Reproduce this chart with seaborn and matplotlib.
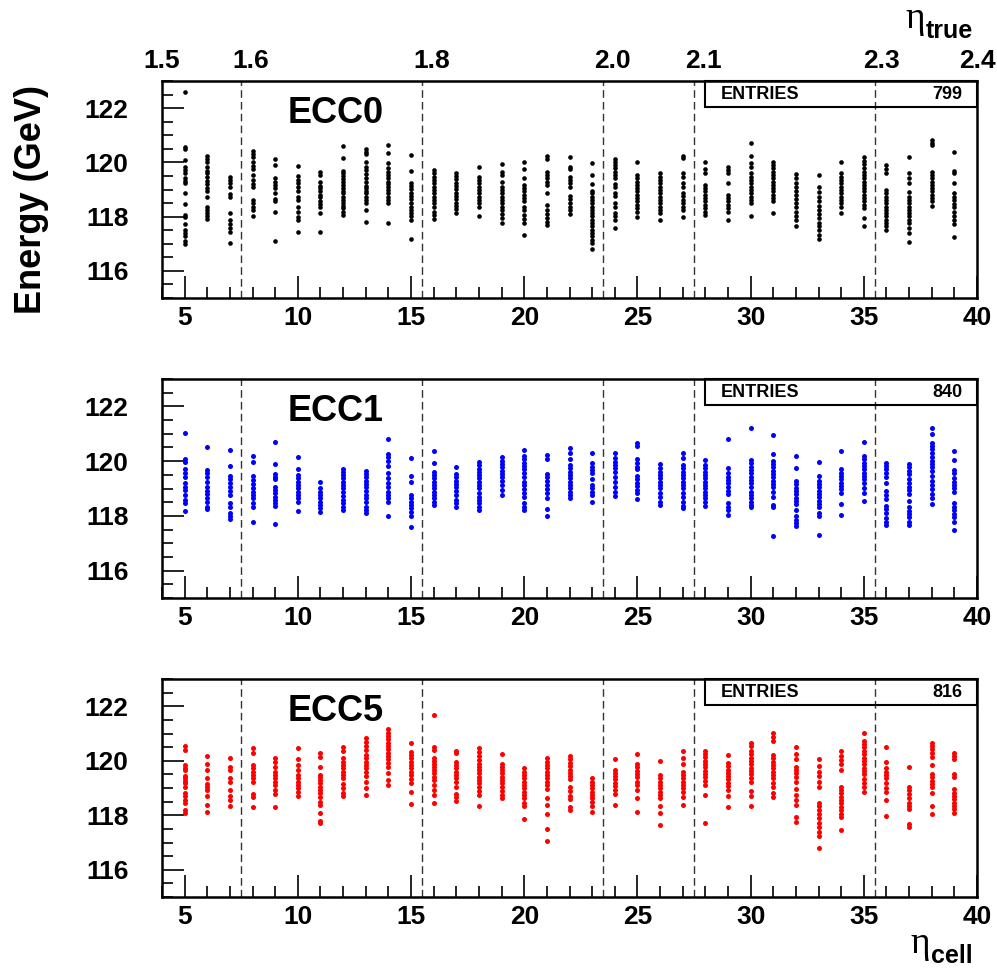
import numpy as np
import pandas as pd
import matplotlib.pyplot as plt
import seaborn as sns
from matplotlib.ticker import MultipleLocator
from matplotlib.patches import Rectangle

# eta cell index of each column of points
eta_cell = [5, 6, 7, 8, 9, 10, 11, 12, 13, 14, 15, 16, 17, 18, 19, 20, 21, 22,
            23, 24, 25, 26, 27, 28, 29, 30, 31, 32, 33, 34, 35, 36, 37, 38, 39]

# reconstructed energies (GeV), one list per eta cell
ecc0_energy = [
    [122.59, 120.58, 120.48, 120.09, 119.82, 119.72, 119.60, 119.42, 119.33, 119.23, 118.89, 118.47, 118.07, 117.98, 117.74, 117.52, 117.39, 117.27, 117.12, 117.00],
    [120.25, 120.14, 120.03, 119.82, 119.70, 119.60, 119.48, 119.33, 119.21, 119.05, 118.93, 118.74, 118.37, 118.25, 118.13, 118.03, 117.91],
    [119.45, 119.35, 119.23, 119.11, 118.84, 118.72, 118.13, 117.88, 117.74, 117.58, 117.45, 117.02],
    [120.42, 120.31, 120.19, 120.03, 119.87, 119.75, 119.54, 119.35, 119.21, 119.08, 118.62, 118.50, 118.37, 118.25, 118.04],
    [120.13, 119.90, 119.41, 119.29, 119.17, 119.05, 118.89, 118.64, 118.56, 118.16, 117.09],
    [119.88, 119.50, 119.35, 119.23, 119.11, 118.96, 118.72, 118.62, 118.37, 118.19, 117.98, 117.88, 117.42],
    [119.63, 119.54, 119.29, 119.13, 119.05, 118.93, 118.80, 118.72, 118.59, 118.47, 118.37, 118.13, 117.43],
    [120.59, 120.15, 119.68, 119.60, 119.50, 119.40, 119.29, 119.17, 119.05, 118.95, 118.86, 118.74, 118.62, 118.52, 118.41, 118.31, 118.19, 118.07],
    [120.49, 120.39, 120.30, 120.03, 119.84, 119.72, 119.57, 119.41, 119.29, 119.13, 119.05, 118.96, 118.86, 118.74, 118.62, 118.50, 118.25, 117.82],
    [120.63, 120.33, 119.96, 119.78, 119.66, 119.54, 119.41, 119.29, 119.21, 119.11, 118.99, 118.86, 118.72, 118.62, 118.50, 117.76],
    [120.27, 119.68, 119.25, 119.13, 119.01, 118.89, 118.76, 118.64, 118.52, 118.37, 118.25, 118.13, 118.01, 117.88, 117.18],
    [119.72, 119.60, 119.48, 119.35, 119.23, 119.11, 118.99, 118.86, 118.74, 118.62, 118.50, 118.37, 118.19, 118.07, 117.91],
    [119.62, 119.50, 119.38, 119.25, 119.13, 119.01, 118.89, 118.76, 118.64, 118.52, 118.40, 118.27, 118.13],
    [119.84, 119.48, 119.35, 119.23, 119.11, 118.99, 118.86, 118.74, 118.62, 118.50, 118.37, 118.04],
    [119.94, 119.66, 119.54, 119.29, 119.11, 118.99, 118.86, 118.74, 118.62, 118.50, 118.37, 118.25, 118.10, 117.94, 117.78],
    [120.01, 119.74, 119.41, 119.17, 119.05, 118.93, 118.80, 118.68, 118.56, 118.37, 118.25, 118.07, 117.91, 117.76, 117.31],
    [120.24, 120.11, 119.66, 119.54, 119.41, 119.29, 119.17, 118.89, 118.43, 118.25, 118.10, 117.94, 117.82, 117.70],
    [120.21, 119.82, 119.74, 119.48, 119.35, 119.23, 119.11, 118.76, 118.64, 118.52, 118.37, 118.25, 118.10],
    [119.97, 119.54, 119.21, 118.96, 118.86, 118.74, 118.62, 118.50, 118.37, 118.25, 118.13, 118.01, 117.88, 117.76, 117.64, 117.52, 117.39, 117.27, 117.15, 117.02, 116.82],
    [120.11, 120.03, 119.90, 119.78, 119.66, 119.54, 119.41, 119.21, 119.08, 118.89, 118.76, 118.52, 118.37, 118.15, 118.01, 117.88, 117.58],
    [120.00, 119.54, 119.41, 119.29, 119.17, 119.05, 118.93, 118.80, 118.68, 118.56, 118.43, 118.31, 118.19, 117.98],
    [119.60, 119.48, 119.35, 119.23, 119.11, 118.99, 118.86, 118.74, 118.62, 118.50, 118.37, 118.25, 118.13, 117.86],
    [120.24, 120.15, 119.60, 119.48, 119.23, 119.11, 118.89, 118.76, 118.62, 118.50, 118.37, 118.25, 117.98],
    [120.00, 119.74, 119.62, 119.17, 119.05, 118.93, 118.80, 118.68, 118.56, 118.43, 118.31, 118.19, 118.05],
    [119.84, 119.72, 119.60, 119.25, 118.80, 118.68, 118.56, 118.43, 118.31, 118.19, 117.86],
    [120.70, 120.24, 119.97, 119.84, 119.60, 119.48, 119.35, 119.23, 119.11, 118.99, 118.86, 118.74, 118.62, 118.50, 118.03],
    [120.03, 119.90, 119.78, 119.66, 119.54, 119.41, 119.29, 119.17, 119.05, 118.93, 118.80, 118.68, 118.56, 118.13],
    [119.57, 119.41, 119.25, 119.11, 118.96, 118.80, 118.64, 118.50, 118.35, 118.19, 118.03, 117.88, 117.64],
    [119.54, 119.11, 118.92, 118.74, 118.56, 118.40, 118.25, 118.10, 117.94, 117.78, 117.64, 117.49, 117.33, 117.17],
    [120.03, 119.60, 119.48, 119.35, 119.23, 119.11, 118.99, 118.86, 118.74, 118.62, 118.50, 118.37, 118.15],
    [120.19, 120.06, 119.94, 119.78, 119.66, 119.54, 119.41, 119.29, 119.17, 119.05, 118.93, 118.80, 118.68, 118.56, 118.43, 118.31, 117.94, 117.64],
    [119.90, 119.75, 119.62, 118.99, 118.86, 118.74, 118.62, 118.50, 118.37, 118.25, 118.13, 118.01, 117.88, 117.76, 117.64, 117.49],
    [120.21, 119.60, 119.41, 119.23, 118.92, 118.74, 118.62, 118.50, 118.37, 118.25, 118.13, 118.01, 117.88, 117.76, 117.58, 117.39, 117.05],
    [120.82, 120.73, 120.64, 119.66, 119.54, 119.41, 119.29, 119.17, 119.05, 118.93, 118.80, 118.68, 118.56, 118.40],
    [120.39, 119.70, 119.60, 119.23, 118.86, 118.74, 118.62, 118.47, 118.35, 118.19, 118.03, 117.88, 117.74, 117.25],
]

ecc1_energy = [
    [121.02, 120.07, 119.98, 119.70, 119.55, 119.43, 119.19, 119.07, 118.95, 118.77, 118.58, 118.46, 118.19],
    [120.52, 119.68, 119.56, 119.43, 119.25, 119.05, 118.92, 118.80, 118.64, 118.50, 118.34, 118.24],
    [120.40, 119.81, 119.46, 119.34, 119.19, 119.05, 118.92, 118.77, 118.46, 118.32, 118.10, 117.98, 117.89],
    [120.20, 119.98, 119.46, 119.31, 119.17, 119.01, 118.89, 118.77, 118.64, 118.46, 118.32, 117.76],
    [120.69, 119.91, 119.53, 119.43, 119.34, 119.07, 118.95, 118.83, 118.70, 118.58, 118.46, 118.36, 117.71],
    [120.14, 119.73, 119.50, 119.37, 119.25, 119.13, 119.01, 118.89, 118.77, 118.64, 118.52, 118.18],
    [119.25, 119.01, 118.89, 118.77, 118.64, 118.52, 118.40, 118.28, 118.16],
    [119.72, 119.62, 119.50, 119.37, 119.25, 119.13, 119.01, 118.89, 118.73, 118.58, 118.46, 118.34, 118.22],
    [119.65, 119.53, 119.41, 119.29, 119.17, 119.05, 118.92, 118.77, 118.64, 118.52, 118.34, 118.22, 118.10],
    [120.81, 120.26, 120.14, 120.02, 119.83, 119.55, 119.37, 119.19, 119.07, 118.89, 118.77, 118.64, 118.52, 117.98],
    [120.10, 119.46, 119.25, 118.77, 118.64, 118.52, 118.40, 118.28, 118.16, 117.98, 117.59],
    [120.37, 119.92, 119.62, 119.50, 119.37, 119.25, 119.13, 119.01, 118.89, 118.77, 118.64, 118.52, 118.40],
    [119.80, 119.53, 119.41, 119.29, 119.17, 119.05, 118.92, 118.77, 118.58, 118.46, 118.34],
    [119.98, 119.86, 119.73, 119.62, 119.50, 119.37, 119.25, 119.13, 119.01, 118.85, 118.70, 118.58, 118.46, 118.34, 118.22],
    [120.14, 120.02, 119.89, 119.77, 119.65, 119.53, 119.41, 119.29, 119.13, 118.95, 118.77],
    [120.41, 120.19, 120.07, 119.95, 119.82, 119.70, 119.55, 119.41, 119.25, 119.13, 118.97, 118.85, 118.68, 118.46, 118.34, 118.22],
    [120.23, 120.07, 119.53, 119.41, 119.29, 119.13, 118.97, 118.83, 118.64, 118.24, 117.98],
    [120.47, 120.31, 120.07, 119.86, 119.74, 119.62, 119.50, 119.37, 119.25, 119.13, 119.01, 118.89, 118.77, 118.64],
    [120.31, 119.95, 119.80, 119.68, 119.56, 119.34, 119.13, 119.01, 118.89, 118.77, 118.50],
    [120.29, 120.10, 119.98, 119.86, 119.74, 119.62, 119.43, 119.25, 119.07, 118.89, 118.73],
    [120.68, 120.55, 120.07, 119.95, 119.80, 119.70, 119.46, 119.34, 119.22, 119.10, 118.95, 118.83, 118.63],
    [119.89, 119.74, 119.62, 119.50, 119.37, 119.25, 119.13, 119.01, 118.85, 118.70, 118.52, 118.40],
    [120.29, 120.10, 119.86, 119.74, 119.62, 119.50, 119.37, 119.25, 119.13, 119.01, 118.85, 118.70, 118.52, 118.36, 118.28],
    [120.04, 119.86, 119.74, 119.62, 119.50, 119.37, 119.25, 119.13, 119.01, 118.89, 118.77, 118.64, 118.52, 118.36],
    [120.80, 119.74, 119.56, 119.43, 119.31, 119.19, 119.07, 118.92, 118.80, 118.46, 118.34, 118.22, 118.04],
    [121.22, 120.04, 119.92, 119.80, 119.68, 119.56, 119.43, 119.31, 119.19, 119.07, 118.89, 118.77, 118.64, 118.52, 118.40, 118.32],
    [120.94, 120.26, 120.02, 119.89, 119.77, 119.65, 119.53, 119.41, 119.29, 119.17, 119.05, 118.89, 118.70, 118.40, 118.32, 117.25],
    [120.19, 119.76, 119.28, 119.16, 119.03, 118.91, 118.79, 118.67, 118.55, 118.43, 118.22, 117.98, 117.86, 117.73, 117.64],
    [119.97, 119.46, 119.29, 119.17, 119.05, 118.92, 118.80, 118.68, 118.56, 118.44, 118.32, 118.10, 117.98, 117.31],
    [120.37, 119.70, 119.58, 119.46, 119.34, 119.22, 119.10, 118.97, 118.85, 118.43, 118.05],
    [120.71, 120.19, 120.07, 119.95, 119.82, 119.70, 119.58, 119.46, 119.34, 119.22, 119.01, 118.83, 118.55],
    [119.95, 119.82, 119.70, 119.58, 119.41, 119.19, 118.92, 118.77, 118.61, 118.36, 118.24, 118.10, 117.94, 117.79, 117.65],
    [119.89, 119.77, 119.65, 119.53, 119.34, 119.19, 119.07, 118.95, 118.80, 118.56, 118.32, 118.19, 118.07, 117.95, 117.79, 117.65],
    [121.20, 120.99, 120.68, 120.55, 120.43, 120.31, 120.17, 120.02, 119.89, 119.77, 119.65, 119.46, 119.29, 119.13, 118.97, 118.80, 118.64, 118.43],
    [120.37, 120.04, 119.68, 119.56, 119.37, 119.25, 119.13, 119.01, 118.89, 118.48, 118.34, 118.22, 118.07, 117.95, 117.79, 117.49],
]

ecc5_energy = [
    [120.54, 120.39, 119.84, 119.75, 119.66, 119.44, 119.36, 119.27, 119.17, 119.05, 118.83, 118.71, 118.56, 118.44, 118.20, 118.07],
    [120.19, 119.88, 119.66, 119.36, 119.14, 119.05, 118.93, 118.71, 118.38, 118.11],
    [120.09, 119.76, 119.66, 119.36, 119.23, 118.93, 118.71, 118.56, 118.35],
    [120.46, 120.30, 119.84, 119.72, 119.60, 119.48, 119.36, 119.23, 118.78, 118.66, 118.31],
    [120.09, 119.96, 119.78, 119.60, 119.48, 119.36, 119.23, 119.11, 118.93, 118.78, 118.31],
    [120.47, 120.06, 119.84, 119.66, 119.48, 119.36, 119.23, 119.11, 118.99, 118.87, 118.71],
    [120.27, 120.13, 119.78, 119.48, 119.39, 119.29, 119.17, 119.05, 118.93, 118.80, 118.68, 118.50, 118.38, 118.07, 117.80, 117.70],
    [120.49, 120.37, 120.09, 119.96, 119.84, 119.72, 119.60, 119.48, 119.36, 119.15, 118.99, 118.83, 118.71],
    [120.82, 120.70, 120.54, 120.39, 120.21, 120.09, 119.96, 119.84, 119.72, 119.60, 119.44, 119.23, 118.99, 118.74],
    [121.16, 121.03, 120.91, 120.79, 120.66, 120.54, 120.42, 120.30, 120.18, 120.05, 119.93, 119.78, 119.56, 119.29, 119.11],
    [120.64, 120.33, 120.21, 120.09, 119.96, 119.84, 119.72, 119.60, 119.48, 119.32, 119.17, 118.87, 118.40],
    [121.68, 120.49, 120.39, 120.12, 120.00, 119.88, 119.76, 119.66, 119.54, 119.42, 119.29, 119.11, 118.93, 118.74, 118.46],
    [120.37, 120.30, 119.96, 119.84, 119.72, 119.60, 119.48, 119.36, 119.23, 119.05, 118.78, 118.66, 118.54],
    [120.46, 120.33, 120.17, 120.02, 119.90, 119.78, 119.66, 119.54, 119.42, 119.29, 119.17, 119.05, 118.90, 118.74, 118.34],
    [120.24, 119.90, 119.78, 119.66, 119.54, 119.42, 119.29, 119.17, 119.05, 118.90, 118.74, 118.62],
    [119.72, 119.60, 119.48, 119.36, 119.23, 119.11, 118.99, 118.87, 118.74, 118.62, 118.46, 118.34, 117.86],
    [120.09, 119.96, 119.84, 119.72, 119.60, 119.48, 119.36, 119.23, 119.11, 118.96, 118.62, 118.38, 118.05, 117.48, 117.06],
    [120.17, 120.05, 119.93, 119.81, 119.68, 119.56, 119.44, 119.32, 119.03, 118.90, 118.71, 118.58, 118.29, 118.19],
    [119.36, 119.23, 119.11, 118.99, 118.87, 118.74, 118.62, 118.50, 118.34, 118.13],
    [120.05, 119.68, 119.56, 119.44, 119.32, 119.20, 119.07, 118.93, 118.78, 118.38],
    [120.24, 119.88, 119.76, 119.64, 119.52, 119.39, 119.23, 119.11, 118.93, 118.62, 118.13],
    [119.99, 119.48, 119.36, 119.23, 119.11, 118.99, 118.87, 118.74, 118.62, 118.34, 118.09, 117.64],
    [120.36, 120.09, 119.90, 119.60, 119.48, 119.36, 119.23, 119.11, 118.99, 118.87, 118.68, 118.38],
    [120.36, 120.25, 120.13, 120.00, 119.88, 119.76, 119.64, 119.52, 119.39, 119.27, 119.11, 118.74, 117.73],
    [120.21, 119.93, 119.81, 119.68, 119.56, 119.44, 119.32, 119.20, 119.07, 118.93, 118.71, 118.32],
    [120.64, 120.54, 120.36, 120.24, 120.11, 119.99, 119.87, 119.74, 119.62, 119.50, 119.38, 119.23, 118.90, 118.71, 118.34],
    [121.01, 120.88, 120.74, 120.21, 120.09, 119.97, 119.84, 119.72, 119.60, 119.48, 119.36, 119.17, 119.03, 118.83, 118.68],
    [120.49, 120.25, 120.05, 119.79, 119.66, 119.54, 119.39, 119.23, 118.95, 118.74, 118.56, 118.38, 117.95, 117.76],
    [120.05, 119.81, 119.60, 119.44, 119.23, 119.05, 118.46, 118.34, 118.19, 118.05, 117.89, 117.70, 117.56, 117.40, 117.24, 116.79],
    [120.36, 120.17, 120.02, 119.88, 119.66, 119.05, 118.93, 118.81, 118.68, 118.56, 118.44, 118.32, 118.19, 118.05, 117.95, 117.46],
    [121.03, 120.74, 120.61, 120.49, 120.36, 120.24, 120.12, 119.99, 119.87, 119.75, 119.63, 119.50, 119.35, 119.19, 119.05, 118.87],
    [120.49, 119.97, 119.72, 119.60, 119.48, 119.36, 119.17, 118.99, 118.87, 118.56, 117.97],
    [119.76, 119.05, 118.93, 118.78, 118.62, 118.46, 118.34, 118.22, 117.68, 117.58],
    [120.66, 120.54, 120.42, 120.27, 120.13, 119.85, 119.52, 119.39, 119.27, 119.15, 119.03, 118.83, 118.34, 118.04],
    [120.30, 120.17, 120.05, 119.52, 119.39, 118.95, 118.83, 118.71, 118.58, 118.46, 118.34, 118.22, 118.10],
]

calorimeters = ['ECC0', 'ECC1', 'ECC5']
entries = [799, 840, 816]
cell_boundaries = [7.5, 15.5, 23.5, 27.5, 35.5]
eta_true_labels = ['1.5', '1.6', '1.8', '2.0', '2.1', '2.3', '2.4']
eta_true_at = [4.0, 7.9, 15.9, 23.9, 27.9, 35.8, 40.0]

rows = []
for name, energies in zip(calorimeters, [ecc0_energy, ecc1_energy, ecc5_energy]):
    for cell, vals in zip(eta_cell, energies):
        for e in vals:
            rows.append((name, cell, e))
df = pd.DataFrame(rows, columns=['calo', 'eta_cell', 'energy'])

sns.set_style('white')
plt.rcParams['font.family'] = ['Liberation Sans', 'DejaVu Sans']
plt.rcParams['font.weight'] = 'bold'
plt.rcParams['text.color'] = 'black'
plt.rcParams['xtick.color'] = 'black'
plt.rcParams['ytick.color'] = 'black'
plt.rcParams['xtick.labelcolor'] = 'black'
plt.rcParams['ytick.labelcolor'] = 'black'

fig = plt.figure(figsize=(9.97, 9.68), dpi=100)
panel_boxes = [[0.1625, 0.6921, 0.8175, 0.2242],
               [0.1625, 0.3822, 0.8175, 0.2262],
               [0.1625, 0.0733, 0.8175, 0.2252]]
colors = ['black', 'blue', 'red']

for i, name in enumerate(calorimeters):
    ax = fig.add_axes(panel_boxes[i])
    sub = df[df['calo'] == name]
    sns.scatterplot(data=sub, x='eta_cell', y='energy', color=colors[i],
                    s=13 if i else 11, linewidth=0, ax=ax, legend=False)
    ax.set_xlim(4, 40)
    ax.set_ylim(115, 123)
    ax.set_xlabel('')
    ax.set_ylabel('')
    ax.xaxis.set_major_locator(MultipleLocator(5))
    ax.xaxis.set_minor_locator(MultipleLocator(1))
    ax.yaxis.set_major_locator(MultipleLocator(2))
    ax.yaxis.set_minor_locator(MultipleLocator(0.5))
    ax.set_yticks([116, 118, 120, 122])
    ax.tick_params(which='both', direction='in', top=False, right=False,
                   bottom=True, left=True, width=1.2, color='black')
    ax.tick_params(which='major', length=16, labelsize=19)
    ax.tick_params(which='minor', length=8)
    ax.tick_params(axis='y', pad=24)
    ax.tick_params(axis='x', pad=6)
    for sp in ax.spines.values():
        sp.set_linewidth(1.8)
        sp.set_color('black')
    for b in cell_boundaries:
        ax.axvline(b, color='#333333', lw=1.0, ls=(0, (5.5, 3.0)), zorder=1)

    ax.add_patch(Rectangle((0.666, 0.88), 0.334, 0.12, transform=ax.transAxes,
                           fill=False, lw=1.5, ec='black', clip_on=False))
    ax.text(0.686, 0.94, 'ENTRIES', transform=ax.transAxes, fontsize=13,
            fontweight='bold', va='center', ha='left')
    ax.text(0.982, 0.94, str(entries[i]), transform=ax.transAxes, fontsize=13,
            fontweight='bold', va='center', ha='right')
    ax.text(0.2135, 0.807, name, transform=ax.transAxes, fontsize=26,
            fontweight='bold', va='baseline', ha='center')

    if i == 0:
        for lab, pos in zip(eta_true_labels, eta_true_at):
            ax.text(pos, 1.06, lab, transform=ax.get_xaxis_transform(),
                    fontsize=19, fontweight='bold', ha='center', va='baseline')

fig.text(0.032, 0.794, 'Energy (GeV)', rotation=90, fontsize=26,
         fontweight='bold', ha='center', va='center')

# axis titles with a greek eta and a bold subscript
fig.text(0.9077, 0.9710, 'η', family=['Liberation Serif', 'DejaVu Serif'],
         fontsize=27, fontweight='normal', ha='left', va='baseline')
fig.text(0.9288, 0.9607, 'true', fontsize=18, fontweight='bold',
         ha='left', va='baseline')
fig.text(0.9127, 0.0155, 'η', family=['Liberation Serif', 'DejaVu Serif'],
         fontsize=27, fontweight='normal', ha='left', va='baseline')
fig.text(0.9338, 0.0052, 'cell', fontsize=18, fontweight='bold',
         ha='left', va='baseline')

fig.savefig('out.png', dpi=100)
